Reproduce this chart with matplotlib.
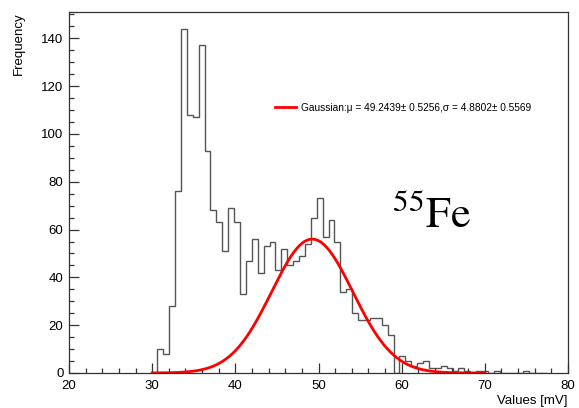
import numpy as np
import matplotlib.pyplot as plt
from matplotlib.ticker import MultipleLocator

plt.rcParams['font.family'] = ['Liberation Sans', 'DejaVu Sans']
plt.rcParams['mathtext.fontset'] = 'stix'

# pulse height histogram (mV), fixed bin width
bin_start = 30.62
bin_width = 0.71
counts = [10, 8, 28, 76, 144, 108, 107, 137, 93, 68,
          63, 51, 69, 63, 33, 47, 56, 42, 53, 55,
          43, 52, 45, 47, 49, 54, 65, 73, 57, 64,
          55, 34, 35, 25, 22, 22, 23, 23, 20, 16,
          0, 7, 5, 3, 4, 5, 2, 2, 3, 2,
          1, 2, 1, 0, 1, 1, 0, 1, 0, 0,
          0, 0, 1, 0, 0, 0]

# gaussian fit
fit_mu = 49.2439
fit_mu_err = 0.5256
fit_sigma = 4.8802
fit_sigma_err = 0.5569
fit_amp = 56.0
fit_lo, fit_hi = 30.0, 70.0

edges = bin_start + bin_width * np.arange(len(counts) + 1)

fig = plt.figure(figsize=(5.79, 4.08), dpi=100)
ax = fig.add_axes([0.1192, 0.0858, 0.8618, 0.8848])

ax.stairs(counts, edges, color='#555555', lw=1.0, baseline=0)

xf = np.linspace(fit_lo, fit_hi, 400)
yf = fit_amp * np.exp(-0.5 * ((xf - fit_mu) / fit_sigma) ** 2)
label = (f'Gaussian:\u03bc = {fit_mu:.4f}\u00b1 {fit_mu_err:.4f},'
         f'\u03c3 = {fit_sigma:.4f}\u00b1 {fit_sigma_err:.4f}')
ax.plot(xf, yf, color='#ff0000', lw=2, label=label)

ax.legend(loc='center left', bbox_to_anchor=(0.405, 0.734), frameon=False,
          fontsize=7.3, handlelength=2.1, handletextpad=0.45, borderaxespad=0)

ax.text(58.8, 60.5, r'$^{55}\mathrm{Fe}$', fontsize=32, ha='left',
        va='baseline', color='black')

ax.set_xlim(20, 80)
ax.set_ylim(0, 151)
ax.xaxis.set_major_locator(MultipleLocator(10))
ax.xaxis.set_minor_locator(MultipleLocator(2))
ax.yaxis.set_major_locator(MultipleLocator(20))
ax.yaxis.set_minor_locator(MultipleLocator(5))
ax.tick_params(which='both', direction='in', top=False, right=False,
               labelsize=9.5, color='#333333')
ax.tick_params(which='major', length=7, width=0.9)
ax.tick_params(which='minor', length=3.5, width=0.9)
ax.tick_params(axis='x', pad=5)
ax.tick_params(axis='y', pad=4)
for sp in ax.spines.values():
    sp.set_linewidth(0.9)
    sp.set_color('#333333')

ax.set_xlabel('Values [mV]', fontsize=9.5, loc='right', labelpad=2)
ax.set_ylabel('Frequency', fontsize=9.5, loc='top', labelpad=12)

fig.savefig('out.png', dpi=100)
